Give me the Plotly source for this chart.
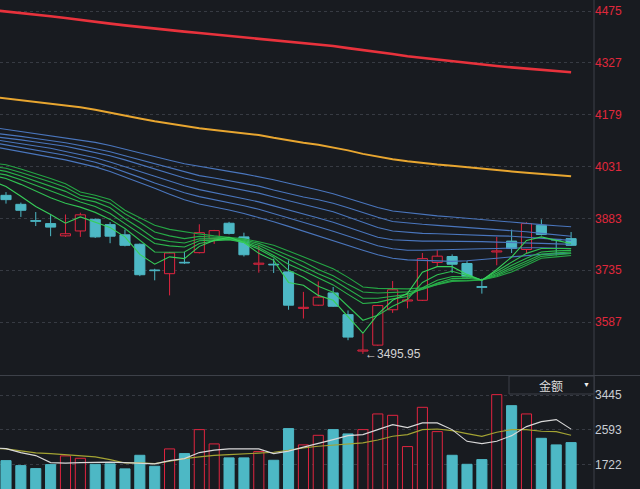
import plotly.graph_objects as go

# ---------------- data ----------------
candle_idx = list(range(1, 40))
opens = [3948.7, 3923, 3876.5, 3868, 3833, 3847, 3880, 3865, 3836, 3809,
         3735.5, 3725, 3757.5, 3785, 3825, 3869, 3830, 3752, 3752, 3730,
         3626, 3635, 3670, 3608, 3504, 3521, 3622, 3647, 3649, 3757,
         3774, 3754, 3688, 3787, 3818, 3794, 3863, 3823, 3825]
highs = [3958, 3928, 3901, 3892, 3894, 3899, 3883, 3872, 3851, 3811,
         3739, 3787, 3787, 3866, 3850, 3873, 3842, 3806, 3768, 3763,
         3673, 3703, 3687, 3620, 3554, 3636, 3704, 3671, 3784, 3792,
         3780, 3761, 3711, 3830, 3851, 3872, 3880, 3824, 3844]
lows = [3925, 3887, 3861, 3832, 3830, 3830, 3827, 3812, 3803, 3718,
        3706, 3663, 3753, 3783, 3810, 3837, 3774, 3728, 3727, 3622,
        3597, 3633, 3630, 3535, 3495.95, 3519, 3613, 3626, 3647, 3744,
        3727, 3714, 3668, 3749, 3784, 3782, 3834, 3777, 3804]
closes = [3936.4, 3906, 3874.5, 3858, 3839, 3893, 3830, 3832, 3806, 3722,
          3733.5, 3784, 3755.5, 3842, 3848, 3840, 3779, 3755, 3750, 3635,
          3629, 3658, 3632, 3544, 3507, 3634, 3679, 3650, 3768, 3775,
          3752, 3716, 3686, 3790, 3797, 3868, 3837, 3821, 3806]
volume = [1830, 1707, 1634, 1732, 1946, 1887, 1739, 1749, 1626, 1961,
          1690, 2118, 2003, 2593, 2241, 1897, 1897, 2052, 1838, 2618,
          2217, 2453, 2593, 2487, 2593, 2979, 2945, 2175, 3142, 2544,
          1961, 1739, 1855, 3454, 3183, 2979, 2379, 2217, 2273]

# indicator lines (index 0 is the partly hidden bar left of the first candle)
line_idx = list(range(0, 40))
ma_red = [4478, 4474, 4469, 4464, 4460, 4455, 4449, 4444, 4439, 4434,
          4429, 4424, 4420, 4416, 4412, 4408, 4405, 4401, 4397, 4392,
          4388, 4384, 4379, 4375, 4369, 4364, 4358, 4352, 4346, 4341,
          4336, 4331, 4327, 4322, 4318, 4314, 4310, 4306, 4303, 4300]
ma_yellow = [4230, 4225, 4220, 4216.5, 4212, 4206, 4200, 4193, 4184, 4176,
             4168, 4160, 4153, 4146, 4140, 4135, 4130.5, 4126, 4121, 4113,
             4105, 4099, 4093, 4086, 4077, 4067, 4059, 4052, 4046, 4041,
             4037, 4033.5, 4029, 4025, 4021, 4017, 4013.5, 4010, 4006, 4003]
long1 = [4143, 4137, 4131, 4126, 4120, 4114, 4107, 4100, 4091, 4080,
         4070, 4060, 4049, 4039, 4031, 4024, 4017, 4010, 4002, 3993,
         3983, 3974, 3964, 3953, 3940, 3926, 3914, 3904, 3899, 3894,
         3890, 3887, 3883, 3880, 3876, 3872, 3869, 3865, 3862, 3859]
long2 = [4127, 4123, 4117, 4111, 4106, 4099, 4091, 4083, 4073, 4061.5,
         4050, 4039, 4026, 4015, 4005, 3998, 3991, 3984, 3975, 3964,
         3953, 3944, 3936, 3926, 3913, 3899, 3886, 3874, 3869, 3866,
         3863, 3860, 3857, 3854, 3852, 3849, 3844.5, 3840, 3836, 3832]
long3 = [4117, 4113, 4107, 4101, 4096, 4089, 4080, 4071, 4061.5, 4050,
         4037, 4024, 4010, 3998, 3988, 3980, 3972, 3964, 3955, 3944,
         3933, 3923, 3913, 3902, 3887, 3872, 3857, 3847, 3843, 3840,
         3839, 3837, 3836, 3834.5, 3833, 3832, 3829, 3826, 3823, 3820]
long4 = [4109, 4103, 4097, 4090, 4083, 4074, 4066, 4056, 4044, 4031.5,
         4017, 4003, 3989, 3976, 3965, 3957, 3948, 3939, 3930, 3919,
         3907, 3896, 3884, 3872, 3857, 3842, 3829, 3822, 3819, 3818,
         3818, 3818, 3817, 3816.5, 3815, 3814.5, 3813, 3811.5, 3810, 3809]
long5 = [4100, 4093, 4086, 4079, 4071, 4063, 4053, 4043, 4030, 4016,
         4000, 3984, 3969, 3956, 3945, 3937, 3928, 3919, 3909, 3897,
         3884, 3872, 3859, 3846, 3832, 3817, 3804.5, 3796, 3792, 3792,
         3792.5, 3793.5, 3794.5, 3796, 3797, 3799, 3799, 3799, 3797, 3796.5]
long6 = [4089, 4081, 4074, 4066, 4059, 4050, 4040, 4030, 4017, 4001.5,
         3986, 3969, 3952, 3936, 3924, 3916, 3907, 3897, 3886, 3873,
         3860, 3846, 3833, 3820, 3806, 3792, 3779, 3769, 3764.5, 3763,
         3762, 3760, 3762, 3764.5, 3769, 3773, 3777, 3780, 3781.5, 3783]
short1 = [3991, 3974, 3946, 3917, 3894, 3869, 3887, 3872, 3857, 3830,
          3780, 3752, 3773, 3768, 3803, 3820, 3829, 3814, 3783, 3763,
          3700, 3692, 3663, 3649, 3603, 3555, 3609, 3649, 3669, 3729,
          3745, 3745, 3723, 3706, 3737, 3772.5, 3820, 3830, 3820, 3811]
short2 = [4006, 3997, 3980, 3960, 3941.5, 3926, 3915, 3900, 3880, 3854,
          3820, 3787, 3786, 3787, 3811, 3819, 3822, 3814, 3794.5, 3772,
          3734.5, 3714.5, 3689, 3672, 3632, 3592, 3606, 3632, 3652, 3700,
          3722, 3732, 3720, 3707, 3732, 3758, 3783, 3797, 3797, 3797]
short3 = [4014, 4007, 3993, 3977, 3961.5, 3946, 3929.5, 3917, 3897, 3868,
          3840, 3811, 3804.5, 3801, 3819, 3822, 3823, 3816, 3800, 3777,
          3752, 3733, 3712, 3693, 3666, 3640, 3643, 3653, 3660, 3685,
          3706, 3717, 3716, 3707, 3726, 3749, 3769, 3787, 3790, 3791.5]
short4 = [4024, 4017, 4004, 3990, 3976, 3960, 3939, 3930, 3913, 3882,
          3854.5, 3825, 3817, 3812.5, 3824.5, 3824.5, 3825, 3819, 3806, 3786,
          3766, 3746, 3724.5, 3707, 3680, 3655, 3655, 3660, 3666, 3681,
          3698, 3711, 3712, 3707, 3722, 3742, 3761.5, 3780, 3784.5, 3787]
short5 = [4031.5, 4026, 4014, 4001.5, 3987, 3971.5, 3949, 3940, 3926, 3896,
          3872, 3844, 3833, 3825, 3831.5, 3829, 3827, 3821.5, 3811.5, 3794.5,
          3777, 3759, 3737, 3719, 3694.5, 3672.5, 3670, 3672, 3673, 3680,
          3694.5, 3706, 3707, 3707, 3719, 3736.5, 3754.5, 3774.5, 3779, 3783]
short6 = [4041.5, 4036, 4024, 4011.5, 3997, 3981.5, 3958, 3949, 3937, 3906,
          3884.5, 3863, 3851.5, 3844, 3838.5, 3833, 3829.5, 3824.5, 3816, 3806,
          3790, 3773, 3756, 3739, 3714.5, 3687, 3683, 3683, 3681.5, 3684.5,
          3693, 3703, 3704.5, 3707, 3716, 3730, 3749, 3769, 3773, 3777]
vol_ma5 = [2150, 2125, 2027, 1953, 1781, 1769, 1781, 1788, 1793, 1781,
           1756, 1749, 1830, 1879, 2027, 2088, 2118, 2118, 2118, 2002,
           2064, 2162, 2248, 2347, 2445, 2470, 2593, 2716, 2642, 2758,
           2758, 2593, 2305, 2248, 2305, 2445, 2667, 2790, 2839, 2605]
vol_ma10 = [2138, 2118, 2069, 2020, 2002, 1978, 1953, 1921, 1855, 1773,
            1773, 1756, 1813, 1879, 1921, 1960, 1978, 1995, 2020, 2034,
            2084, 2143, 2182, 2207, 2224, 2266, 2339, 2428, 2470, 2593,
            2610, 2568, 2495, 2428, 2527, 2593, 2593, 2551, 2544, 2453]

price_ticks = [4475, 4327, 4179, 4031, 3883, 3735, 3587]
vol_ticks = [3445, 2593, 1722]
low_label = "←3495.95"
vol_menu_label = "金额"

# ---------------- styles ----------------
BG = "#181b20"
UP = "#e0243f"
DN = "#4db8c5"
GRID = "#373b43"
SEP = "#3d4149"
FONT = "Liberation Sans, Arial, sans-serif"

is_up = [c >= o for o, c in zip(opens, closes)]

fig = go.Figure()


def bodies(mask, color, fill, xa, ya):
    xs = [i for i, m in zip(candle_idx, mask) if m]
    base = [min(o, c) for o, c, m in zip(opens, closes, mask) if m]
    h = [abs(c - o) for o, c, m in zip(opens, closes, mask) if m]
    fig.add_trace(go.Bar(x=xs, y=h, base=base, width=0.68,
                         marker=dict(color=fill, line=dict(color=color, width=1)),
                         xaxis=xa, yaxis=ya, hoverinfo="skip"))


def wicks(mask, color):
    xs, ys = [], []
    for i, o, h, l, c, m in zip(candle_idx, opens, highs, lows, closes, mask):
        if not m:
            continue
        top, bot = max(o, c), min(o, c)
        xs += [i, i, None, i, i, None]
        ys += [h, top, None, bot, l, None]
    fig.add_trace(go.Scatter(x=xs, y=ys, mode="lines", line=dict(color=color, width=1),
                             xaxis="x", yaxis="y", hoverinfo="skip"))


# candles
bodies(is_up, UP, BG, "x", "y")
bodies([not u for u in is_up], DN, DN, "x", "y")
wicks(is_up, UP)
wicks([not u for u in is_up], DN)

# long moving averages
fig.add_trace(go.Scatter(x=line_idx, y=ma_red, mode="lines",
                         line=dict(color="#e8323c", width=2.6), xaxis="x", yaxis="y"))
fig.add_trace(go.Scatter(x=line_idx, y=ma_yellow, mode="lines",
                         line=dict(color="#e8a630", width=2), xaxis="x", yaxis="y"))
for s in [long1, long2, long3, long4, long5, long6]:
    fig.add_trace(go.Scatter(x=line_idx, y=s, mode="lines",
                             line=dict(color="#4a76bd", width=1.1), xaxis="x", yaxis="y"))
for s, col in [(short6, "#25a544"), (short5, "#27ab47"), (short4, "#29b14a"),
               (short3, "#2cb84d"), (short2, "#30c052"), (short1, "#38cf5a")]:
    fig.add_trace(go.Scatter(x=line_idx, y=s, mode="lines",
                             line=dict(color=col, width=1.1), xaxis="x", yaxis="y"))

# volume
vx_up = [i for i, u in zip(candle_idx, is_up) if u]
vy_up = [v for v, u in zip(volume, is_up) if u]
vx_dn = [i for i, u in zip(candle_idx, is_up) if not u]
vy_dn = [v for v, u in zip(volume, is_up) if not u]
fig.add_trace(go.Bar(x=vx_up, y=vy_up, width=0.68,
                     marker=dict(color=BG, line=dict(color=UP, width=1)),
                     xaxis="x2", yaxis="y2"))
fig.add_trace(go.Bar(x=vx_dn, y=vy_dn, width=0.68,
                     marker=dict(color=DN, line=dict(color=DN, width=1)),
                     xaxis="x2", yaxis="y2"))
fig.add_trace(go.Scatter(x=line_idx, y=vol_ma10, mode="lines",
                         line=dict(color="#a3a333", width=1.1), xaxis="x2", yaxis="y2"))
fig.add_trace(go.Scatter(x=line_idx, y=vol_ma5, mode="lines",
                         line=dict(color="#d8d8d8", width=1.1), xaxis="x2", yaxis="y2"))

xr = [0.597, 40.54]
axis_common = dict(showgrid=False, zeroline=False, showticklabels=False,
                   showline=False, ticks="", fixedrange=True)

fig.update_layout(
    width=640, height=489,
    margin=dict(l=0, r=46, t=0, b=0),
    paper_bgcolor=BG, plot_bgcolor=BG,
    showlegend=False, barmode="overlay",
    xaxis=dict(domain=[0, 1], range=xr, anchor="y", **axis_common),
    xaxis2=dict(domain=[0, 1], range=xr, anchor="y2", **axis_common),
    yaxis=dict(domain=[1 - 375 / 489, 1], range=[3435.7, 4506.4], side="right",
               anchor="x", tickmode="array", tickvals=price_ticks,
               ticktext=[str(t) for t in price_ticks],
               tickfont=dict(color="#e0283c", size=12, family=FONT),
               showgrid=True, gridcolor=GRID, griddash="dot", gridwidth=1,
               zeroline=False, ticks="", showline=False),
    yaxis2=dict(domain=[0, 1 - 376 / 489], range=[1131, 3913], side="right",
                anchor="x2", tickmode="array", tickvals=vol_ticks,
                ticktext=[str(t) for t in vol_ticks],
                tickfont=dict(color="#c9cdd3", size=12, family=FONT),
                showgrid=True, gridcolor=GRID, griddash="dot", gridwidth=1,
                zeroline=False, ticks="", showline=False),
    shapes=[
        dict(type="line", xref="paper", yref="paper", x0=0, x1=640 / 594,
             y0=1 - 375.5 / 489, y1=1 - 375.5 / 489, line=dict(color=SEP, width=1)),
        dict(type="line", xref="paper", yref="paper", x0=1, x1=1, y0=0, y1=1,
             line=dict(color=SEP, width=1)),
        dict(type="rect", xref="paper", yref="paper", x0=509 / 594, x1=1,
             y0=1 - 394 / 489, y1=1 - 376 / 489, fillcolor=BG,
             line=dict(color=SEP, width=1), layer="above"),
    ],
    annotations=[
        dict(x=25, y=lows[24], xref="x", yref="y", text=low_label, showarrow=False,
             xanchor="left", yanchor="middle", xshift=0,
             font=dict(color="#d2d2d2", size=12, family=FONT)),
        dict(x=550.5 / 594, y=1 - 385.7 / 489, xref="paper", yref="paper",
             text=vol_menu_label, showarrow=False, xanchor="center", yanchor="middle",
             font=dict(color="#dcdcdc", size=12, family="Noto Sans CJK SC")),
        dict(x=586.5 / 594, y=1 - 384.5 / 489, xref="paper", yref="paper",
             text="▼", showarrow=False, xanchor="center", yanchor="middle",
             font=dict(color="#f0f0f0", size=7, family=FONT)),
    ],
)

fig.write_html("out.html")
